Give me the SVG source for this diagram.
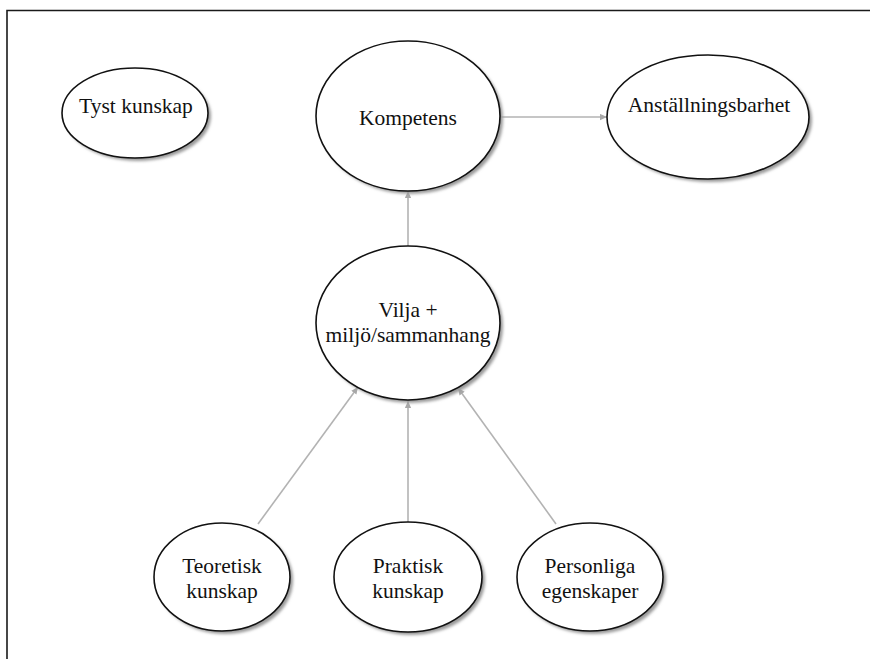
<svg xmlns="http://www.w3.org/2000/svg" width="870" height="659" viewBox="0 0 870 659">
<style>
.node ellipse.body{fill:#fff;stroke:#111;stroke-width:1.6}
.node ellipse.shadow{fill:#9a9a9a;filter:url(#blur)}
.node text{font-size:21.5px;fill:#111;text-anchor:middle}
.conn line{stroke:#b3b3b3;stroke-width:1.6;marker-end:url(#arr)}
</style>
<defs>
<filter id="blur" x="-20%" y="-20%" width="140%" height="140%"><feGaussianBlur stdDeviation="1.6"/></filter>
<marker id="arr" viewBox="0 0 10 10" refX="10" refY="5" markerWidth="7" markerHeight="7" markerUnits="userSpaceOnUse" orient="auto">
<path d="M0,0.5 L10,5 L0,9.5 z" fill="#a8a8a8"/>
</marker>
</defs>
<rect width="870" height="659" fill="#fff"/>
<path d="M7,660 V10.5 H872" fill="none" stroke="#1a1a1a" stroke-width="1.6"/>

<g id="conns" class="conn">
<line x1="500" y1="117" x2="607" y2="117"/>
<line x1="408" y1="246" x2="408" y2="191"/>
<line x1="258" y1="524" x2="358" y2="387"/>
<line x1="408" y1="522" x2="408" y2="401"/>
<line x1="556" y1="524" x2="458" y2="388"/>
</g>

<g font-family="Liberation Serif, Times New Roman, Tinos, DejaVu Serif, serif">
<g id="tyst" class="node">
<ellipse class="shadow" cx="138" cy="116" rx="73" ry="45"/>
<ellipse class="body" cx="135" cy="113" rx="73" ry="45"/>
<text x="136" y="113">Tyst kunskap</text>
</g>
<g id="kompetens" class="node">
<ellipse class="shadow" cx="411" cy="119" rx="92" ry="75"/>
<ellipse class="body" cx="408" cy="116" rx="92" ry="75"/>
<text x="408" y="125">Kompetens</text>
</g>
<g id="anstallningsbarhet" class="node">
<ellipse class="shadow" cx="711" cy="120" rx="101" ry="62"/>
<ellipse class="body" cx="708" cy="117" rx="101" ry="62"/>
<text x="709" y="112">Anställningsbarhet</text>
</g>
<g id="vilja" class="node">
<ellipse class="shadow" cx="411" cy="326" rx="92" ry="77"/>
<ellipse class="body" cx="408" cy="323" rx="92" ry="77"/>
<text x="408" y="317">Vilja +</text>
<text x="408" y="342">miljö/sammanhang</text>
</g>
<g id="teoretisk" class="node">
<ellipse class="shadow" cx="225" cy="580" rx="68" ry="54"/>
<ellipse class="body" cx="222" cy="577" rx="68" ry="54"/>
<text x="222" y="573">Teoretisk</text>
<text x="222" y="598">kunskap</text>
</g>
<g id="praktisk" class="node">
<ellipse class="shadow" cx="411" cy="580" rx="74" ry="55"/>
<ellipse class="body" cx="408" cy="577" rx="74" ry="55"/>
<text x="408" y="573">Praktisk</text>
<text x="408" y="598">kunskap</text>
</g>
<g id="personliga" class="node">
<ellipse class="shadow" cx="593" cy="580" rx="73" ry="54"/>
<ellipse class="body" cx="590" cy="577" rx="73" ry="54"/>
<text x="590" y="573">Personliga</text>
<text x="590" y="598">egenskaper</text>
</g>
</g>
</svg>
